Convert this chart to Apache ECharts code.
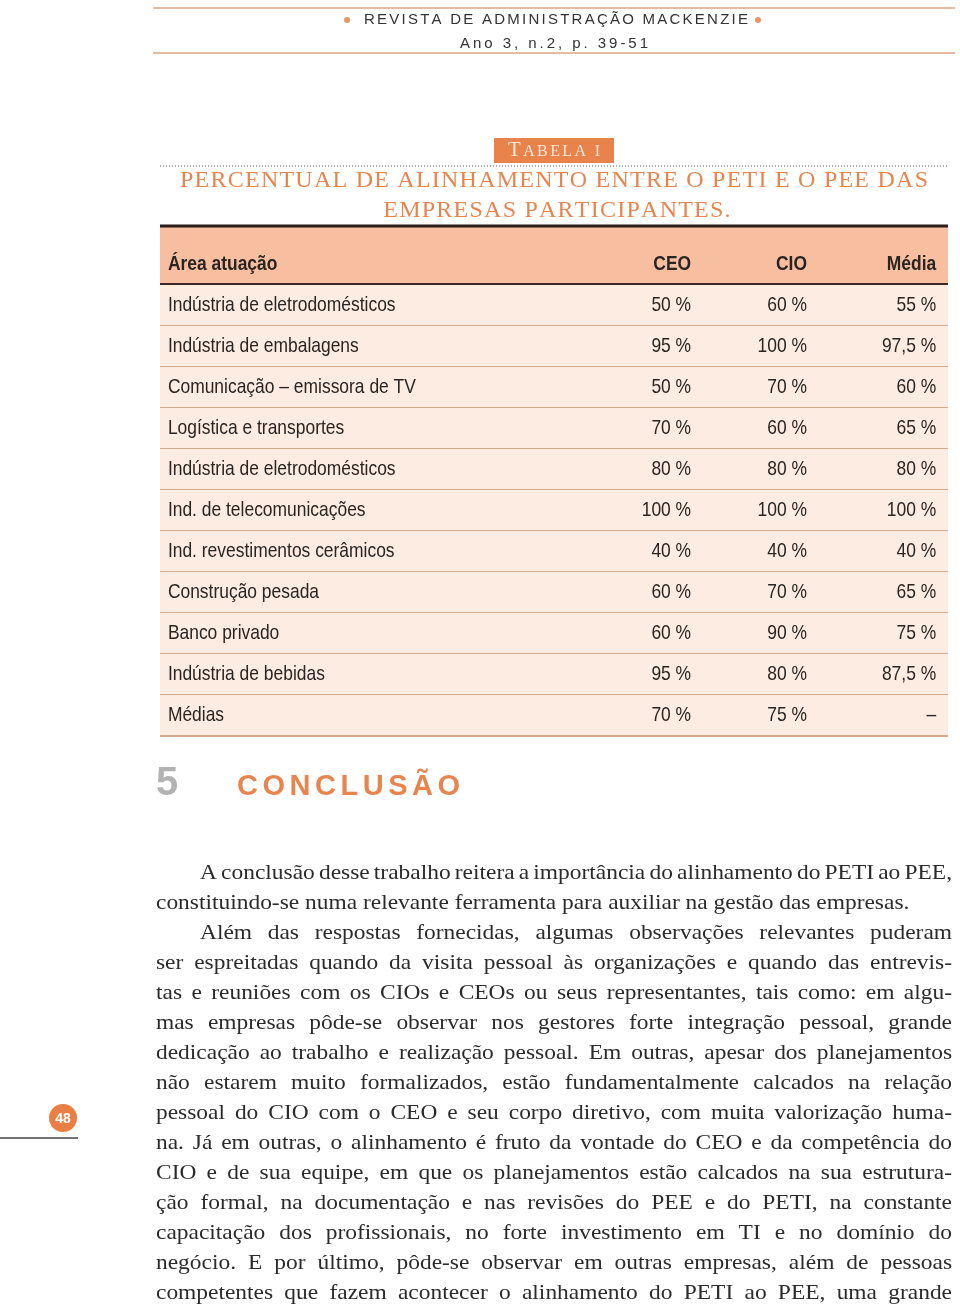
<!DOCTYPE html>
<html>
<head>
<meta charset="utf-8">
<script src="https://cdn.jsdelivr.net/npm/echarts@6/dist/echarts.min.js"></script>
<style>
  html, body { margin: 0; padding: 0; background: #fff; }
  #page { width: 960px; height: 1306px; }
</style>
</head>
<body>
<div id="page"></div>
<script>
// dados da tabela
const columns = ['Área atuação', 'CEO', 'CIO', 'Média'];
const areas = [
  'Indústria de eletrodomésticos',
  'Indústria de embalagens',
  'Comunicação – emissora de TV',
  'Logística e transportes',
  'Indústria de eletrodomésticos',
  'Ind. de telecomunicações',
  'Ind. revestimentos cerâmicos',
  'Construção pesada',
  'Banco privado',
  'Indústria de bebidas',
  'Médias',
];
const ceo = [50, 95, 50, 70, 80, 100, 40, 60, 60, 95, 70];
const cio = [60, 100, 70, 60, 80, 100, 40, 70, 90, 80, 75];
const media = [55, 97.5, 60, 65, 80, 100, 40, 65, 75, 87.5, null];

const paragraphLines = [
  'A conclusão desse trabalho reitera a importância do alinhamento do PETI ao PEE,',
  'constituindo-se numa relevante ferramenta para auxiliar na gestão das empresas.',
  'Além das respostas fornecidas, algumas observações relevantes puderam',
  'ser espreitadas quando da visita pessoal às organizações e quando das entrevis-',
  'tas e reuniões com os CIOs e CEOs ou seus representantes, tais como: em algu-',
  'mas empresas pôde-se observar nos gestores forte integração pessoal, grande',
  'dedicação ao trabalho e realização pessoal. Em outras, apesar dos planejamentos',
  'não estarem muito formalizados, estão fundamentalmente calcados na relação',
  'pessoal do CIO com o CEO e seu corpo diretivo, com muita valorização huma-',
  'na. Já em outras, o alinhamento é fruto da vontade do CEO e da competência do',
  'CIO e de sua equipe, em que os planejamentos estão calcados na sua estrutura-',
  'ção formal, na documentação e nas revisões do PEE e do PETI, na constante',
  'capacitação dos profissionais, no forte investimento em TI e no domínio do',
  'negócio. E por último, pôde-se observar em outras empresas, além de pessoas',
  'competentes que fazem acontecer o alinhamento do PETI ao PEE, uma grande',
];
const indentedLines = [0, 2];
const lastLines = [1];

// estilo
const ORANGE = '#e8854f';
const HEAD_BG = '#f7bf9f';
const BODY_BG = '#fdece2';
const SEP = '#d4ab8c';
const INK = '#2a2522';
const SANS = '"Liberation Sans", Arial, sans-serif';
const SERIF = '"Liberation Serif", "DejaVu Serif", serif';
const CELL_FONT = '21px ' + SANS;
const CELL_SCALE = 0.83; // simula Helvetica Narrow
// âncoras das colunas (eixo x 0..100): texto à esquerda, valores alinhados à direita
const COL_ANCHOR = [1, 67.4, 82.1, 98.5];

function fmtPct(v) {
  if (v == null) return '–';
  return String(v).replace('.', ',') + ' %';
}

const measureCtx = document.createElement('canvas').getContext('2d');
function textWidth(s, font) {
  measureCtx.font = font;
  return measureCtx.measureText(s).width;
}

const chart = echarts.init(document.getElementById('page'), null, { renderer: 'canvas' });

function cellText(x, y, text, align, bold) {
  return {
    type: 'text',
    x, y,
    scaleX: CELL_SCALE,
    style: {
      text,
      fill: INK,
      font: (bold ? 'bold ' : '') + CELL_FONT,
      textAlign: align,
      textVerticalAlign: 'middle',
    },
  };
}

function renderHeader(params, api) {
  const cs = params.coordSys;
  const c = api.coord([0, 0]);
  const h = api.size([0, 1])[1];
  const top = c[1] - h / 2;
  const kids = [
    { type: 'rect', shape: { x: cs.x, y: top, width: cs.width, height: h }, style: { fill: HEAD_BG } },
    { type: 'line', shape: { x1: cs.x, y1: top, x2: cs.x + cs.width, y2: top }, style: { stroke: '#2b1d17', lineWidth: 3 } },
    { type: 'line', shape: { x1: cs.x, y1: top + h, x2: cs.x + cs.width, y2: top + h }, style: { stroke: '#3a2a22', lineWidth: 2 } },
  ];
  columns.forEach((col, j) => {
    const p = api.coord([COL_ANCHOR[j], 0]);
    kids.push(cellText(p[0], p[1] + 9, col, j === 0 ? 'left' : 'right', true));
  });
  return { type: 'group', children: kids };
}

function renderRow(params, api) {
  const i = params.dataIndex;
  const cs = params.coordSys;
  const c = api.coord([0, i]);
  const h = api.size([0, 1])[1];
  const top = c[1] - h / 2;
  const kids = [
    { type: 'rect', shape: { x: cs.x, y: top, width: cs.width, height: h }, style: { fill: BODY_BG } },
    { type: 'line', shape: { x1: cs.x, y1: top + h, x2: cs.x + cs.width, y2: top + h }, style: { stroke: SEP, lineWidth: 2 } },
  ];
  const vals = [areas[i], fmtPct(ceo[i]), fmtPct(cio[i]), fmtPct(media[i])];
  vals.forEach((v, j) => {
    const p = api.coord([COL_ANCHOR[j], i]);
    kids.push(cellText(p[0], p[1], v, j === 0 ? 'left' : 'right', false));
  });
  return { type: 'group', children: kids };
}

// texto espaçado: caracteres um a um, espaçamento extra escolhido para ocupar "width"
function spacedText(str, left, width, y, fonts, fill, spacing, dy) {
  const chars = Array.from(str);
  const fontOf = (k) => (typeof fonts === 'function' ? fonts(k) : fonts);
  const w = chars.map((ch, k) => textWidth(ch, fontOf(k)));
  const natural = w.reduce((a, b) => a + b, 0);
  const gap = spacing != null ? spacing : (width - natural) / (chars.length - 1);
  let x = left;
  return {
    gap,
    els: chars.map((ch, k) => {
      const el = {
        type: 'text', x, y: y + (dy ? dy(k) : 0),
        style: { text: ch, font: fontOf(k), fill, textAlign: 'left', textVerticalAlign: 'middle' },
      };
      x += w[k] + gap;
      return el;
    }),
  };
}

// parágrafo justificado, palavra a palavra
const BODY_FONT = '22px ' + SERIF;
const BODY_SCALE = 1.065;
function paragraphGraphics() {
  const out = [];
  const LEFT = 156, RIGHT = 952, INDENT = 44, Y0 = 873, LH = 30;
  paragraphLines.forEach((line, k) => {
    const x0 = LEFT + (indentedLines.includes(k) ? INDENT : 0);
    const y = Y0 + k * LH;
    const words = line.split(' ');
    const widths = words.map((w) => textWidth(w, BODY_FONT) * BODY_SCALE);
    const total = widths.reduce((a, b) => a + b, 0);
    const space = textWidth(' ', BODY_FONT) * BODY_SCALE;
    const gap = lastLines.includes(k) || words.length < 2
      ? space
      : (RIGHT - x0 - total) / (words.length - 1);
    let x = x0;
    words.forEach((w, n) => {
      out.push({
        type: 'text',
        x, y, scaleX: BODY_SCALE,
        style: { text: w, font: BODY_FONT, fill: '#2b2b2b', textAlign: 'left', textVerticalAlign: 'middle' },
      });
      x += widths[n] + gap;
    });
  });
  return out;
}

const HEAD_FONT = '15px ' + SANS;
const mag = spacedText('REVISTA DE ADMINISTRAÇÃO MACKENZIE', 364, 384, 20, HEAD_FONT, '#333');
const ano = spacedText('Ano 3, n.2, p. 39-51', 460, 188, 44, HEAD_FONT, '#333');

const TITLE_FONT = '24px ' + SERIF;
const t1 = spacedText('PERCENTUAL DE ALINHAMENTO ENTRE O PETI E O PEE DAS', 180, 748, 181, TITLE_FONT, ORANGE);
const t2w = textWidth('EMPRESAS PARTICIPANTES.', TITLE_FONT) + t1.gap * 22;
const t2 = spacedText('EMPRESAS PARTICIPANTES.', 554 - t2w / 2, null, 211, TITLE_FONT, ORANGE, t1.gap);

// versalete: T maior, restantes menores com a mesma linha de base
const tab = spacedText('TABELA I', 508, 92, 150,
  (k) => (k === 0 ? '21px ' : '16px ') + SERIF, '#fde6d6', null,
  (k) => (k === 0 ? 0 : 1.7));

const concl = spacedText('CONCLUSÃO', 237, 223, 787, 'bold 29px ' + SANS, ORANGE);

const graphics = [
  // cabeçalho da revista
  { type: 'line', shape: { x1: 153, y1: 8, x2: 955, y2: 8 }, style: { stroke: '#e3bba3', lineWidth: 2 } },
  { type: 'line', shape: { x1: 153, y1: 53, x2: 955, y2: 53 }, style: { stroke: '#e3bba3', lineWidth: 2 } },
  { type: 'circle', shape: { cx: 347, cy: 20, r: 3 }, style: { fill: '#ea9466' } },
  { type: 'circle', shape: { cx: 758, cy: 20, r: 3 }, style: { fill: '#ea9466' } },
  ...mag.els,
  ...ano.els,

  // título da tabela
  { type: 'rect', shape: { x: 494, y: 138, width: 120, height: 25 }, style: { fill: '#e9834c' } },
  ...tab.els,
  { type: 'line', shape: { x1: 160, y1: 166, x2: 948, y2: 166 }, style: { stroke: '#555', lineWidth: 1, lineDash: [1, 2] } },
  ...t1.els,
  ...t2.els,

  // seção 5
  { type: 'text', x: 156, y: 784, style: { text: '5', font: 'bold 40px ' + SANS, fill: '#b3b3b3', textAlign: 'left', textVerticalAlign: 'middle' } },
  ...concl.els,

  // número da página
  { type: 'circle', shape: { cx: 63, cy: 1118, r: 14 }, style: { fill: '#ea7f45' } },
  { type: 'text', x: 63, y: 1119, style: { text: '48', font: 'bold 14px ' + SANS, fill: '#fff', textAlign: 'center', textVerticalAlign: 'middle' } },
  { type: 'line', shape: { x1: 0, y1: 1138, x2: 78, y2: 1138 }, style: { stroke: '#444', lineWidth: 1.5 } },
].concat(paragraphGraphics());

chart.setOption({
  animation: false,
  grid: [
    { left: 160, right: 12, top: 226, height: 58 },
    { left: 160, right: 12, top: 285, height: 451 },
  ],
  xAxis: [
    { gridIndex: 0, type: 'value', min: 0, max: 100, show: false },
    { gridIndex: 1, type: 'value', min: 0, max: 100, show: false },
  ],
  yAxis: [
    { gridIndex: 0, type: 'category', data: ['header'], show: false },
    { gridIndex: 1, type: 'category', data: areas.map((a, i) => i), inverse: true, show: false },
  ],
  series: [
    {
      type: 'custom', xAxisIndex: 0, yAxisIndex: 0,
      data: [[0, 0]],
      renderItem: renderHeader,
    },
    {
      type: 'custom', xAxisIndex: 1, yAxisIndex: 1,
      data: areas.map((a, i) => [0, i]),
      renderItem: renderRow,
    },
  ],
  graphic: graphics,
});
</script>
</body>
</html>
